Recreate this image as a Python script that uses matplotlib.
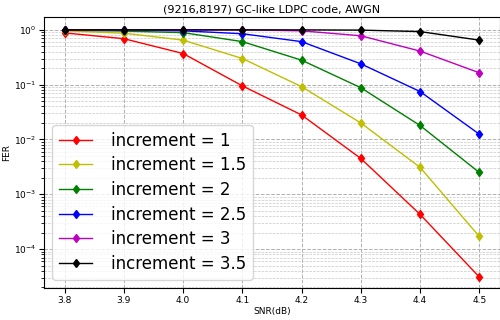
import matplotlib
matplotlib.use("Agg")
import matplotlib.pyplot as plt

snr = [3.8, 3.9, 4.0, 4.1, 4.2, 4.3, 4.4, 4.5]

fer_1 = [0.88, 0.69, 0.37, 0.095, 0.028, 0.0045, 4.3e-4, 3.1e-5]
fer_15 = [0.96, 0.87, 0.65, 0.30, 0.092, 0.020, 0.0031, 1.7e-4]
fer_2 = [0.99, 0.95, 0.89, 0.61, 0.28, 0.088, 0.018, 0.0025]
fer_25 = [1.0, 1.0, 0.96, 0.85, 0.61, 0.24, 0.075, 0.0125]
fer_3 = [1.0, 1.0, 1.0, 1.0, 0.96, 0.78, 0.41, 0.165]
fer_35 = [1.0, 1.0, 1.0, 1.0, 1.0, 0.99, 0.93, 0.65]

series = [
    (fer_1, 'r', 'increment = 1'),
    (fer_15, 'y', 'increment = 1.5'),
    (fer_2, 'g', 'increment = 2'),
    (fer_25, 'b', 'increment = 2.5'),
    (fer_3, 'm', 'increment = 3'),
    (fer_35, 'k', 'increment = 3.5'),
]

fig = plt.figure(figsize=(5, 3.2), dpi=100)
ax = fig.add_axes([0.088, 0.1, 0.912, 0.847])

for vals, c, lab in series:
    ax.semilogy(snr, vals, color=c, marker='d', markersize=4.5, linewidth=1, label=lab)

ax.grid(True, which='major', linestyle='--', color='#b0b0b0', linewidth=0.7)
ax.grid(True, which='minor', linestyle='--', color='#c8c8c8', linewidth=0.5)
ax.set_ylim(1.95e-5, 1.72)
ax.set_title('(9216,8197) GC-like LDPC code, AWGN', fontsize=8, pad=3)
ax.set_xlabel('SNR(dB)', fontsize=6.5, labelpad=2)
ax.set_ylabel('FER', fontsize=6.5)
ax.yaxis.set_label_coords(-0.072, 0.5)
ax.tick_params(labelsize=6.5, pad=2)
ax.legend(loc='lower left', fontsize=12, handlelength=2.0, handletextpad=1.1,
          labelspacing=0.4, borderaxespad=0.5)

fig.savefig('out.png', dpi=100)
